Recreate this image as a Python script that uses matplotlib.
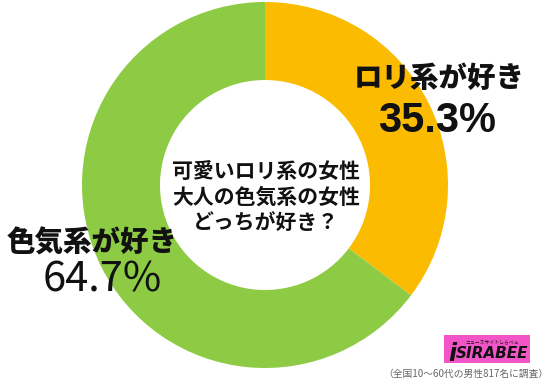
import matplotlib
matplotlib.use('Agg')
import matplotlib.pyplot as plt
from matplotlib.patches import Rectangle

labels = ['ロリ系が好き', '色気系が好き']
values = [35.3, 64.7]
colors = ['#FABB00', '#8DCB45']
question = ['可愛いロリ系の女性', '大人の色気系の女性', 'どっちが好き？']
note = '（全国10〜60代の男性817名に調査）'

W, H = 550, 385
plt.rcParams['font.family'] = ['Noto Sans CJK JP', 'DejaVu Sans']

fig = plt.figure(figsize=(W / 100, H / 100), dpi=100)
ax = fig.add_axes([0, 0, 1, 1])

# donut, clockwise from the top
ax.pie(values, colors=colors, startangle=90, counterclock=False,
       center=(265, H - 185), radius=183, frame=True,
       wedgeprops=dict(width=78, linewidth=0))
ax.set_xlim(0, W)
ax.set_ylim(0, H)
ax.set_aspect('equal')
ax.axis('off')

def y(v):
    return H - v

# centre question
for i, line in enumerate(question):
    ax.text(266, y(171 + i * 26), line, ha='center', va='center',
            fontsize=15, fontweight='bold', color='#111111')

# slice labels
ax.text(439, y(78), labels[0], ha='center', va='center',
        fontsize=20.5, fontweight='heavy', color='#111111')
ax.text(437, y(121), f'{values[0]}%', ha='center', va='center',
        fontsize=30, fontweight='bold', color='#111111',
        family=['Liberation Sans', 'DejaVu Sans'])
ax.text(92, y(243), labels[1], ha='center', va='center',
        fontsize=20.5, fontweight='heavy', color='#111111')
ax.text(102, y(280), f'{values[1]}%', ha='center', va='center',
        fontsize=30, color='#111111')

# logo
ax.add_patch(Rectangle((444, y(363)), 86, 28, facecolor='#F255C8',
                       edgecolor='none'))
ax.text(492, y(342), 'ニュースサイトしらべぇ', ha='center', va='center',
        fontsize=3.5, color='#111111')
ax.text(448, y(354), 'i', ha='left', va='center', fontsize=17,
        fontweight='bold', style='italic', color='#111111',
        family=['DejaVu Sans'])
ax.text(492, y(354), 'SIRABEE', ha='center', va='center',
        fontsize=11, fontweight='bold', style='italic', color='#111111',
        family=['DejaVu Sans'])

# footnote
ax.text(548, y(374), note, ha='right', va='center', fontsize=7,
        color='#666666')

fig.savefig('out.png', dpi=100)
